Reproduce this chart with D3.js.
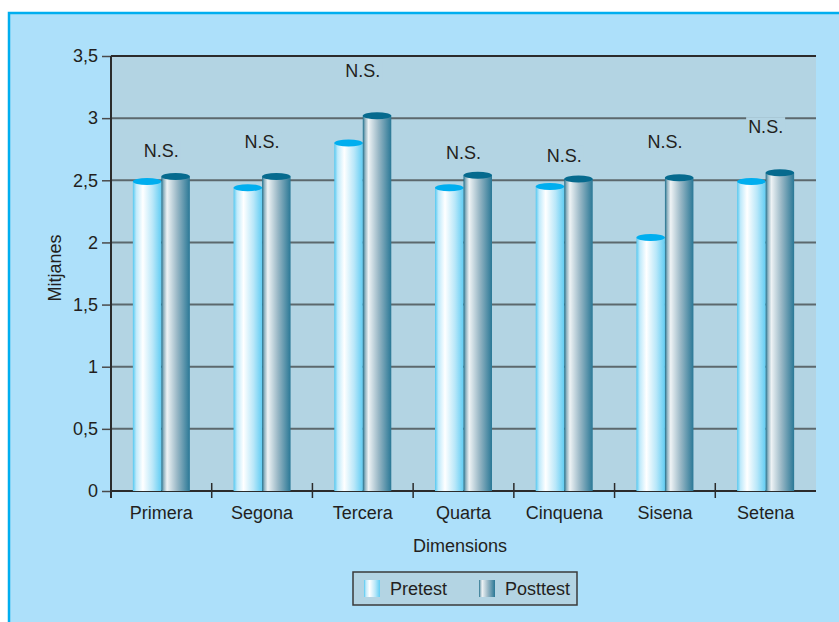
<!DOCTYPE html>
<html><head><meta charset="utf-8">
<script src="https://cdn.jsdelivr.net/npm/d3@7"></script>
<style>body{margin:0;background:#fff}svg{display:block}text{font-family:"Liberation Sans",Arial,sans-serif;fill:#231f20}</style>
</head><body>
<script>
const categories = ["Primera","Segona","Tercera","Quarta","Cinquena","Sisena","Setena"];
const series = ["Pretest","Posttest"];
const pretest = [2.49, 2.44, 2.80, 2.44, 2.45, 2.04, 2.49];
const posttest = [2.53, 2.53, 3.02, 2.54, 2.51, 2.52, 2.56];
const sigLabels = ["N.S.","N.S.","N.S.","N.S.","N.S.","N.S.","N.S."];
const sigValues = [2.74, 2.81, 3.38, 2.72, 2.70, 2.81, 2.93];
const yTicks = [0,0.5,1,1.5,2,2.5,3,3.5];

const W=839,H=622;
const svg=d3.select("body").append("svg").attr("width",W).attr("height",H);
const defs=svg.append("defs");
function grad(id,stops){const g=defs.append("linearGradient").attr("id",id).attr("x1","0").attr("x2","1").attr("y1","0").attr("y2","0");
 stops.forEach(s=>g.append("stop").attr("offset",s[0]).attr("stop-color",s[1]));}
grad("gPre",[[0,"#55c8f0"],[0.12,"#bfeafb"],[0.35,"#ffffff"],[0.7,"#b8e7f9"],[1,"#62cdf3"]]);
grad("gPost",[[0,"#1c6e8b"],[0.08,"#8fb2c0"],[0.2,"#eef3f5"],[0.55,"#9ab8c6"],[1,"#2a7896"]]);

// outer panel
svg.append("rect").attr("x",9).attr("y",13).attr("width",W).attr("height",H).attr("fill","#ade0fa").attr("stroke","#00aeef").attr("stroke-width",2.5);

const L=111,R=816,T=56,B=491;
const y=d3.scaleLinear().domain([0,3.5]).range([B,T]);
const x0=d3.scaleBand().domain(categories).range([L,R]);
const bw=x0.bandwidth();
const x1=d3.scaleBand().domain(series).range([bw/2-28.5,bw/2+28.5]);

svg.append("rect").attr("x",L).attr("y",T).attr("width",R-L).attr("height",B-T).attr("fill","#b3d4e3");

// gridlines
svg.append("g").selectAll("line").data(yTicks.filter(t=>t>0&&t<3.5)).join("line")
 .attr("x1",L).attr("x2",R).attr("y1",d=>y(d)).attr("y2",d=>y(d)).attr("stroke","#5c686d").attr("stroke-width",2);
svg.append("line").attr("x1",L).attr("x2",R).attr("y1",T).attr("y2",T).attr("stroke","#2b2b2b").attr("stroke-width",2);

// y axis
const ya=svg.append("g").attr("transform",`translate(${L},0)`)
 .call(d3.axisLeft(y).tickValues(yTicks).tickSize(9).tickPadding(4).tickFormat(d=>String(d).replace(".",",")));
ya.select(".domain").remove();
ya.selectAll(".tick line").attr("stroke","#4a4a4a").attr("stroke-width",1.5);
ya.selectAll("text").attr("font-size",18).attr("fill","#231f20").attr("font-family","Liberation Sans, Arial, sans-serif");
svg.append("line").attr("x1",L).attr("x2",L).attr("y1",T).attr("y2",B+7).attr("stroke","#2b2b2b").attr("stroke-width",2);

// x axis
svg.append("line").attr("x1",L).attr("x2",R).attr("y1",B).attr("y2",B).attr("stroke","#2b2b2b").attr("stroke-width",2);
const bounds=categories.slice(1).map(c=>x0(c));
svg.append("g").selectAll("line").data(bounds).join("line")
 .attr("x1",d=>d).attr("x2",d=>d).attr("y1",B-8).attr("y2",B+7).attr("stroke","#2b2b2b").attr("stroke-width",1.5);
svg.append("g").selectAll("text").data(categories).join("text")
 .attr("x",d=>x0(d)+bw/2).attr("y",B+28).attr("text-anchor","middle").attr("font-size",18).text(d=>d);

// bars
const data=categories.map((c,i)=>({c,vals:[{s:"Pretest",v:pretest[i]},{s:"Posttest",v:posttest[i]}]}));
const g=svg.append("g").selectAll("g").data(data).join("g").attr("transform",d=>`translate(${x0(d.c)},0)`);
const bars=g.selectAll("g").data(d=>d.vals).join("g");
bars.append("rect").attr("x",d=>x1(d.s)).attr("width",x1.bandwidth()).attr("y",d=>y(d.v)).attr("height",d=>B-y(d.v))
 .attr("fill",d=>d.s==="Pretest"?"url(#gPre)":"url(#gPost)");
bars.append("ellipse").attr("cx",d=>x1(d.s)+x1.bandwidth()/2).attr("cy",d=>y(d.v)).attr("rx",x1.bandwidth()/2).attr("ry",3.5)
 .attr("fill",d=>d.s==="Pretest"?"#00aeef":"#066a8e");

// N.S. labels
const lab=svg.append("g").selectAll("g").data(categories).join("g");
lab.each(function(c,i){
 const gg=d3.select(this);
 const cx=x0(c)+bw/2, cy=y(sigValues[i]);
 const t=gg.append("text").attr("x",cx).attr("y",cy).attr("dy","0.35em").attr("text-anchor","middle").attr("font-size",18).text(sigLabels[i]);
 const bb=t.node().getBBox();
 gg.insert("rect","text").attr("x",bb.x-2).attr("y",bb.y).attr("width",bb.width+4).attr("height",bb.height).attr("fill","#b3d4e3");
});

// axis titles
svg.append("text").attr("transform",`translate(61,268) rotate(-90)`).attr("text-anchor","middle").attr("font-size",18).text("Mitjanes");
svg.append("text").attr("x",460).attr("y",552).attr("text-anchor","middle").attr("font-size",18).text("Dimensions");

// legend
const lg=svg.append("g").attr("transform","translate(353,572)");
lg.append("rect").attr("width",224).attr("height",33).attr("fill","#b3d4e3").attr("stroke","#3a3a3a").attr("stroke-width",1.5);
const items=lg.selectAll("g").data(series).join("g").attr("transform",(d,i)=>`translate(${i?126:11},8)`);
items.append("rect").attr("width",16).attr("height",17).attr("fill",d=>d==="Pretest"?"url(#gPre)":"url(#gPost)");
items.append("text").attr("x",26).attr("y",14.5).attr("font-size",18).text(d=>d);
</script>
</body></html>
